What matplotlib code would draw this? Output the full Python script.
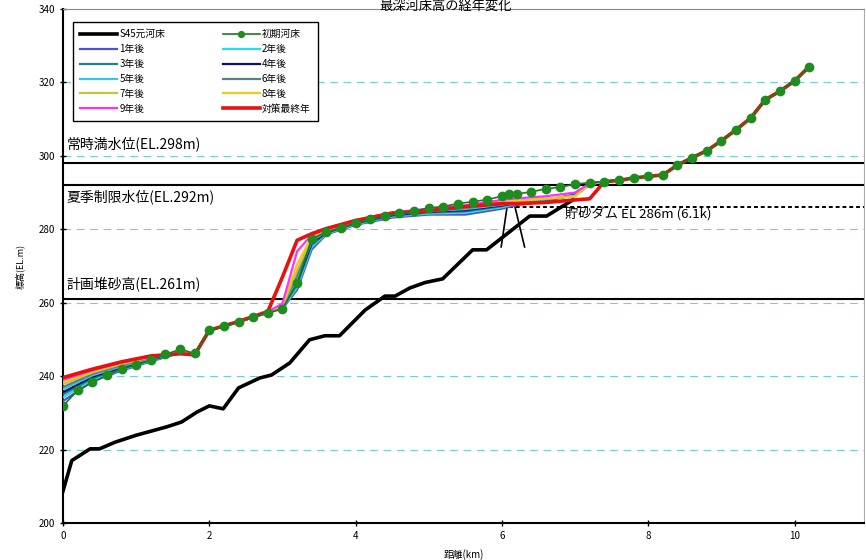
import matplotlib
matplotlib.use('Agg')
import matplotlib.pyplot as plt

plt.rcParams['font.family'] = ['Noto Sans CJK JP', 'DejaVu Sans']

# S45 riverbed (km, EL.m)
S45_X = [0, 0.12, 0.37, 0.5, 0.71, 1.0, 1.42, 1.62, 1.83, 2.0, 2.19, 2.4, 2.69, 2.85,
         3.1, 3.37, 3.58, 3.78, 4.13, 4.4, 4.54, 4.74, 4.95, 5.19, 5.6, 5.79, 6.38,
         6.61, 6.97]
S45_Y = [208.7, 217.0, 220.2, 220.2, 222.0, 223.9, 226.2, 227.5, 230.2, 231.9, 231.1,
         236.8, 239.5, 240.3, 243.6, 249.9, 251.0, 251.0, 258.0, 261.8, 261.8, 264.0,
         265.5, 266.5, 274.4, 274.4, 283.6, 283.6, 288.0]

# initial riverbed
INIT_X = [0, 0.2, 0.4, 0.6, 0.8, 1.0, 1.2, 1.4, 1.6, 1.8, 2.0, 2.2, 2.4, 2.6, 2.8, 3.0,
          3.2, 3.4, 3.6, 3.8, 4.0, 4.2, 4.4, 4.6, 4.8, 5.0, 5.2, 5.4, 5.6, 5.8, 6.0,
          6.1, 6.2, 6.4, 6.6, 6.8, 7.0, 7.2, 7.4, 7.6, 7.8, 8.0, 8.2, 8.4, 8.6, 8.8,
          9.0, 9.2, 9.4, 9.6, 9.8, 10.0, 10.2]
INIT_Y = [231.9, 236.1, 238.3, 240.2, 242.0, 243.0, 244.4, 245.9, 247.3, 246.2, 252.6,
          253.6, 254.8, 256.1, 257.2, 258.4, 265.3, 277.4, 279.2, 280.4, 281.7, 282.7,
          283.6, 284.4, 285.0, 285.8, 286.2, 287.0, 287.5, 288.1, 289.0, 289.5, 289.6,
          290.2, 291.0, 291.5, 292.3, 292.7, 293.0, 293.3, 294.0, 294.4, 294.8, 297.5,
          299.5, 301.4, 304.1, 307.1, 310.3, 315.3, 317.6, 320.4, 324.3]

# yearly results: own values upstream of 7.2 km, common tail beyond
HEAD_X = [0, 0.4, 0.8, 1.2, 1.6, 1.8, 2.0, 2.4, 2.8, 3.0, 3.2, 3.4, 3.6, 4.0, 4.5,
          5.0, 5.5, 6.0, 6.2, 6.6, 7.0, 7.2]
TAIL_X = [7.4, 7.6, 7.8, 8.0, 8.2, 8.4, 8.6, 8.8, 9.0, 9.2, 9.4, 9.6, 9.8, 10.0, 10.2]
TAIL_Y = [293.0, 293.3, 294.0, 294.4, 294.8, 297.5, 299.5, 301.4, 304.1, 307.1, 310.3,
          315.3, 317.6, 320.4, 324.3]

Y1 = [233.2, 238.6, 241.5, 244.0, 246.3, 246.0, 252.5, 254.8, 257.3, 258.4, 263.5,
      274.5, 278.6, 281.2, 283.2, 284.0, 284.0, 285.6, 286.6, 287.6, 289.6, 292.3]
Y2 = [234.2, 239.0, 241.8, 244.2, 246.3, 246.0, 252.5, 254.8, 257.3, 258.5, 264.2,
      275.2, 278.8, 281.4, 283.5, 284.3, 284.5, 286.0, 287.0, 287.8, 289.5, 292.3]
Y3 = [235.0, 239.4, 242.1, 244.4, 246.3, 246.0, 252.5, 254.8, 257.3, 258.6, 265.0,
      275.8, 279.0, 281.6, 283.7, 284.6, 284.9, 286.3, 287.2, 287.9, 289.4, 292.3]
Y4 = [235.6, 239.8, 242.4, 244.6, 246.3, 246.0, 252.5, 254.8, 257.3, 258.7, 265.8,
      276.3, 279.2, 281.8, 283.9, 284.8, 285.2, 286.5, 287.3, 288.0, 289.3, 292.3]
Y5 = [236.4, 240.2, 242.7, 244.8, 246.3, 246.0, 252.5, 254.8, 257.4, 258.8, 266.6,
      276.8, 279.4, 282.0, 284.1, 285.0, 285.5, 286.7, 287.4, 288.1, 289.2, 292.3]
Y6 = [237.0, 240.6, 243.0, 245.0, 246.3, 246.0, 252.5, 254.8, 257.4, 258.9, 267.5,
      277.2, 279.6, 282.1, 284.2, 285.2, 285.8, 286.9, 287.5, 288.2, 289.1, 292.3]
Y7 = [237.8, 241.0, 243.3, 245.2, 246.3, 246.0, 252.5, 254.8, 257.4, 259.0, 268.8,
      277.6, 279.8, 282.2, 284.3, 285.3, 286.0, 287.1, 287.6, 288.3, 289.0, 292.3]
Y8 = [238.4, 241.3, 243.5, 245.3, 246.3, 246.0, 252.5, 254.8, 257.4, 259.2, 270.5,
      278.0, 280.0, 282.3, 284.4, 285.4, 286.2, 287.3, 287.8, 288.4, 289.0, 292.3]
Y9 = [239.0, 241.6, 243.7, 245.4, 246.3, 246.0, 252.5, 254.8, 257.5, 259.8, 274.0,
      278.5, 280.1, 282.4, 284.6, 285.6, 286.5, 288.0, 288.4, 289.0, 290.0, 292.5]
Y_FINAL = [239.6, 241.9, 243.9, 245.5, 246.1, 245.8, 252.5, 254.9, 257.6, 267.0, 277.0,
           278.8, 280.2, 282.4, 284.4, 285.0, 286.2, 287.0, 287.0, 287.3, 288.0, 288.3]

YEAR_SERIES = [Y1, Y2, Y3, Y4, Y5, Y6, Y7, Y8, Y9]
YEAR_LABELS = ['1年後', '2年後', '3年後', '4年後', '5年後', '6年後', '7年後', '8年後', '9年後']
YEAR_COLORS = ['#5050e0', '#20e0e8', '#2a8080', '#101070', '#30c8e8',
               '#5a8080', '#c8c040', '#f0c820', '#ff30ff']

# reference water levels
LEVELS = [298, 292, 261]
LEVEL_TEXT = [('常時満水位(EL.298m)', 303.2), ('夏季制限水位(EL.292m)', 288.8),
              ('計画堆砂高(EL.261m)', 265.2)]
DAM_KM = 6.1
DAM_CREST = 286
DAM_LEGS = [((6.07, 5.99), (286.0, 275.2)), ((6.18, 6.31), (286.0, 275.2))]

XMAX = 10.95

fig = plt.figure(figsize=(8.66, 5.6), dpi=100)
ax = fig.add_axes([63 / 866, 37 / 560, 801 / 866, 514 / 560])

ax.set_xlim(0, XMAX)
ax.set_ylim(200, 340)
ax.set_xticks([0, 2, 4, 6, 8, 10])
ax.set_yticks(range(200, 341, 20))

for v in range(220, 340, 20):
    ax.axhline(v, color='#70d0d0', lw=0.8, dashes=(7, 5), zorder=1)

for lv in LEVELS:
    ax.axhline(lv, color='black', lw=1.5, zorder=2)
for txt, ty in LEVEL_TEXT:
    ax.text(0.05, ty, txt, fontsize=10, va='center', ha='left')

ax.plot([DAM_KM, XMAX], [DAM_CREST, DAM_CREST], color='black', lw=1.4,
        dashes=(2, 1.5), zorder=2)
for lx, ly in DAM_LEGS:
    ax.plot(lx, ly, color='black', lw=1.2, zorder=2)
ax.text(6.86, 284.0, '貯砂ダム EL 286m (6.1k)', fontsize=9.5, va='center', ha='left')

ax.plot(S45_X, S45_Y, color='black', lw=2.6, label='S45元河床', zorder=3)
ax.plot(INIT_X, INIT_Y, color='#1a7a1a', lw=1.2, marker='o', ms=6,
        mfc='#1f8c1f', mec='#1f8c1f', label='初期河床', zorder=6)
for ys, lab, c in zip(YEAR_SERIES, YEAR_LABELS, YEAR_COLORS):
    ax.plot(HEAD_X + TAIL_X, ys + TAIL_Y, color=c, lw=1.6, label=lab, zorder=4)
ax.plot(HEAD_X + TAIL_X, Y_FINAL + TAIL_Y, color='#e81010', lw=2.6,
        label='対策最終年', zorder=5)

# legend ordered row-wise in two columns
handles, labels = ax.get_legend_handles_labels()
order = [0, 2, 4, 6, 8, 10, 1, 3, 5, 7, 9, 11]
leg = ax.legend([handles[i] for i in order], [labels[i] for i in order],
                loc='upper left', bbox_to_anchor=(0.006, 0.985), ncol=2,
                fontsize=7, handlelength=3.8, handletextpad=0.2, markerscale=0.7,
                columnspacing=5.9, labelspacing=0.5, borderpad=0.8,
                fancybox=False, framealpha=1, edgecolor='black')
leg.get_frame().set_linewidth(1.0)
leg.set_zorder(10)

for side in ['left', 'bottom']:
    ax.spines[side].set_linewidth(1.5)
ax.spines['top'].set_color('#888888')
ax.spines['right'].set_color('#aaaaaa')
ax.tick_params(direction='inout', length=4, labelsize=7, width=1)

ax.set_xlabel('距離(km)', fontsize=7, labelpad=6)
ax.set_ylabel('標高(EL.m)', fontsize=6.5)
ax.yaxis.set_label_coords(-0.048, 0.5)

fig.text(0.515, 1.0, '最深河床高の経年変化', fontsize=9.5, ha='center', va='top')

fig.savefig('out.png', dpi=100)
